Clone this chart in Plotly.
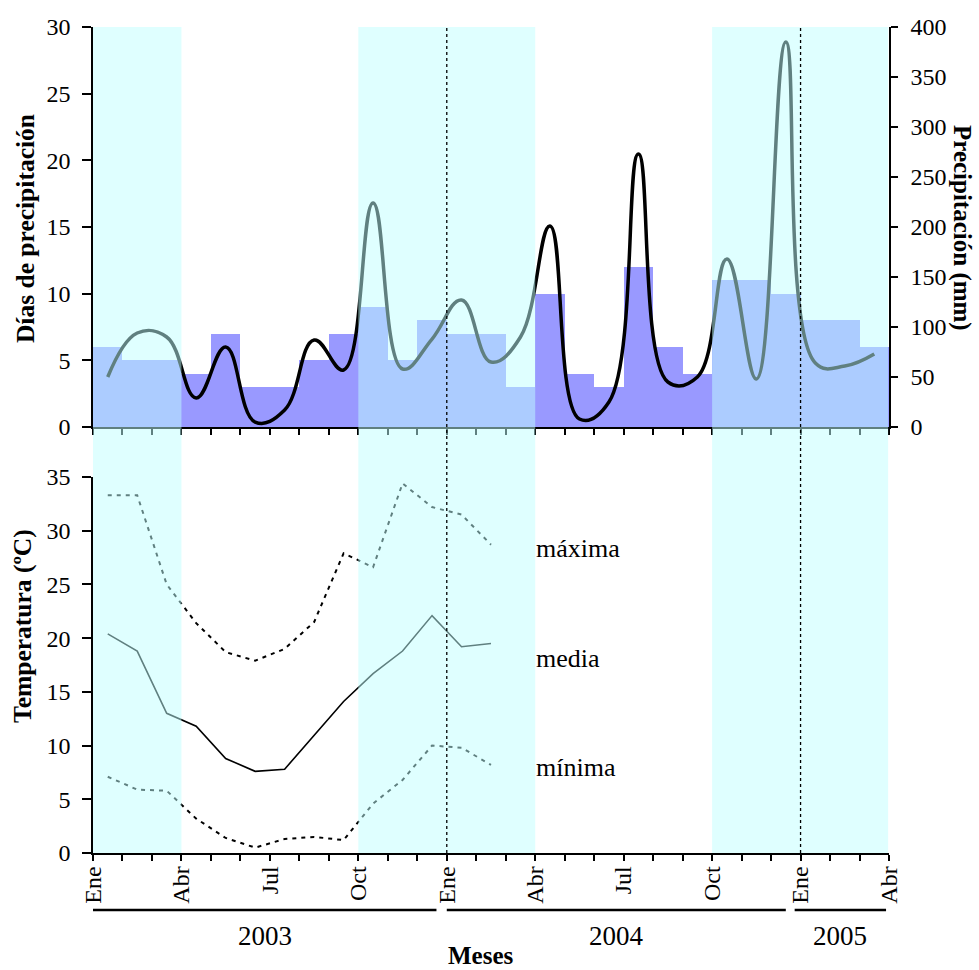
import plotly.graph_objects as go

# Monthly series, Ene 2003 .. Mar 2005 (index 0 = Ene 2003)
dias_precipitacion = [6, 5, 5, 4, 7, 3, 3, 5, 7, 9, 5, 8, 7, 7, 3, 10, 4, 3, 12, 6, 4, 11, 11, 10, 8, 8, 6]
precipitacion_mm = [50, 94, 90, 29, 80, 5, 17, 87, 57, 224, 58, 88, 127, 65, 90, 201, 8, 25,
                    273, 45, 50, 168, 48, 385, 64, 61, 73]

# Temperatures, Ene 2003 .. Feb 2004
temp_maxima = [33.3, 33.3, 25.0, 21.4, 18.7, 17.9, 19.0, 21.5, 27.9, 26.6, 34.4, 32.2, 31.5, 28.7]
temp_media = [20.4, 18.8, 13.0, 11.8, 8.8, 7.6, 7.8, 10.9, 14.1, 16.7, 18.8, 22.1, 19.2, 19.5]
temp_minima = [7.1, 5.9, 5.8, 3.2, 1.4, 0.5, 1.3, 1.5, 1.2, 4.6, 6.8, 10.0, 9.8, 8.2]

mes_etiquetas = ["Ene", "Abr", "Jul", "Oct"]
anios = ["2003", "2004", "2005"]
epoca_lluvias = [(0, 3), (9, 15), (21, 27)]      # month boundaries of the wet seasons
inicio_anio = [12, 24]                             # Ene 2004, Ene 2005

FONT = "Liberation Serif"
N_BOUNDS = 28

x_mes = [i + 0.5 for i in range(len(dias_precipitacion))]
tick_vals = list(range(N_BOUNDS))
tick_text = [mes_etiquetas[(i // 3) % 4] if i % 3 == 0 else "" for i in tick_vals]

fig = go.Figure()

fig.add_trace(go.Bar(
    x=x_mes, y=dias_precipitacion, width=1.0,
    marker=dict(color="#9999FF", line=dict(width=0)),
    xaxis="x", yaxis="y", showlegend=False,
))
fig.add_trace(go.Scatter(
    x=x_mes, y=precipitacion_mm, mode="lines",
    line=dict(color="black", width=3.5, shape="spline", smoothing=1.2),
    xaxis="x", yaxis="y2", showlegend=False,
))

xt = x_mes[:len(temp_media)]
fig.add_trace(go.Scatter(x=xt, y=temp_maxima, mode="lines",
                         line=dict(color="black", width=2, dash="4px,5px"),
                         xaxis="x2", yaxis="y3", showlegend=False))
fig.add_trace(go.Scatter(x=xt, y=temp_media, mode="lines",
                         line=dict(color="black", width=1.6),
                         xaxis="x2", yaxis="y3", showlegend=False))
fig.add_trace(go.Scatter(x=xt, y=temp_minima, mode="lines",
                         line=dict(color="black", width=2, dash="4px,5px"),
                         xaxis="x2", yaxis="y3", showlegend=False))

shapes = []
# translucent cyan over the wet seasons, across both panels
for a, b in epoca_lluvias:
    shapes.append(dict(type="rect", xref="x2", yref="paper", x0=a, x1=min(b, 26.97),
                       y0=0, y1=1, fillcolor="rgba(192,255,255,0.5)",
                       line=dict(width=0), layer="above"))
# year separators
for m in inicio_anio:
    shapes.append(dict(type="line", xref="x2", yref="paper", x0=m, x1=m, y0=0, y1=1,
                       line=dict(color="black", width=1.3, dash="dot"), layer="above"))
# year brackets under the month labels
bracket = [(0, 11.65), (12, 23.5), (23.8, 26.9)]
for (a, b) in bracket:
    shapes.append(dict(type="line", xref="x2", yref="paper", x0=a, x1=b, y0=-0.069, y1=-0.069,
                       line=dict(color="black", width=2.5)))

annotations = []
for (a, b), txt in zip(bracket, anios):
    annotations.append(dict(x=(a + b) / 2, y=-0.1005, xref="x2", yref="paper", text=txt,
                            showarrow=False, xanchor="center", yanchor="middle",
                            font=dict(family=FONT, size=27, color="black")))
annotations.append(dict(x=(481 - 93) / 796, y=-0.1235, xref="paper", yref="paper",
                        text="<b>Meses</b>", showarrow=False, xanchor="center", yanchor="middle",
                        font=dict(family=FONT, size=25, color="black")))
annotations.append(dict(x=-0.0854, y=0.7554, xref="paper", yref="paper",
                        text="<b>Días de precipitación</b>", textangle=-90, showarrow=False,
                        xanchor="center", yanchor="middle",
                        font=dict(family=FONT, size=25.5, color="black")))
annotations.append(dict(x=-0.0892, y=0.2748, xref="paper", yref="paper",
                        text="<b>Temperatura (ºC)</b>", textangle=-90, showarrow=False,
                        xanchor="center", yanchor="middle",
                        font=dict(family=FONT, size=25.5, color="black")))
annotations.append(dict(x=(962 - 93) / 796, y=0.7567, xref="paper", yref="paper",
                        text="<b>Precipitación (mm)</b>", textangle=90, showarrow=False,
                        xanchor="center", yanchor="middle",
                        font=dict(family=FONT, size=25, color="black")))
for txt, yv in [("máxima", 28.3), ("media", 18.1), ("mínima", 8.0)]:
    annotations.append(dict(x=14.95, y=yv, xref="x2", yref="y3", text=txt, showarrow=False,
                            xanchor="left", yanchor="middle",
                            font=dict(family=FONT, size=26, color="black")))

axis_common = dict(showgrid=False, zeroline=False, showline=True, linecolor="black",
                   linewidth=1.5, ticks="outside", tickcolor="black", tickwidth=1.5,
                   tickfont=dict(family=FONT, size=24, color="black"))

fig.update_layout(
    width=979, height=970,
    margin=dict(l=93, r=90, t=27, b=117),
    paper_bgcolor="white", plot_bgcolor="rgba(0,0,0,0)",
    bargap=0, showlegend=False,
    font=dict(family=FONT, color="black"),
    xaxis=dict(axis_common, domain=[0, 1], anchor="y", range=[0, 27],
               tickmode="array", tickvals=tick_vals, showticklabels=False, ticklen=6),
    yaxis=dict(axis_common, domain=[0.5157, 1], anchor="x", range=[0, 30],
               tickmode="linear", tick0=0, dtick=5, ticklen=9, ticklabelstandoff=7),
    yaxis2=dict(axis_common, overlaying="y", side="right", anchor="x", range=[0, 400],
                tickmode="linear", tick0=0, dtick=50, ticklen=7, ticklabelstandoff=8),
    xaxis2=dict(axis_common, domain=[0, 1], anchor="y3", range=[0, 27],
                tickmode="array", tickvals=tick_vals, ticktext=tick_text, tickangle=-90,
                ticklen=6, ticklabelstandoff=-4),
    yaxis3=dict(axis_common, domain=[0, 0.4552], anchor="x2", range=[0, 35],
                tickmode="linear", tick0=0, dtick=5, ticklen=9, ticklabelstandoff=7),
    shapes=shapes,
    annotations=annotations,
)

fig.write_html("out.html")
